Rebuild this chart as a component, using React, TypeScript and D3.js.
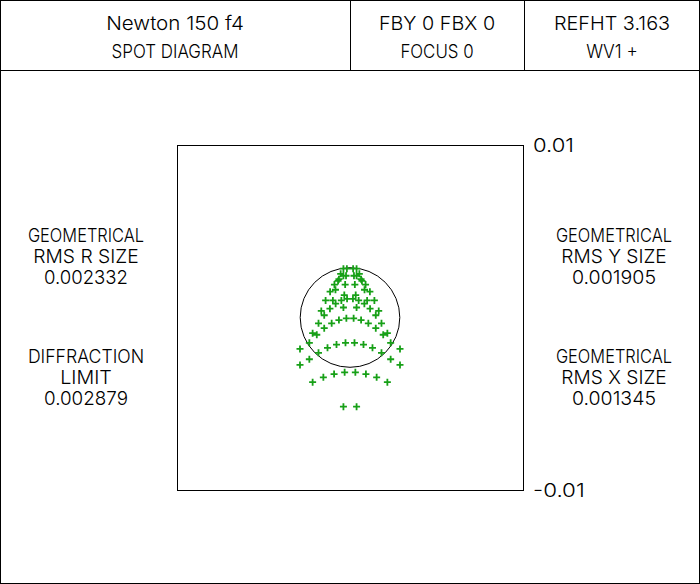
import React from 'react';
import * as d3 from 'd3';

const headerTitle = ['Newton 150 f4', 'SPOT DIAGRAM'];
const headerField = ['FBY 0 FBX 0', 'FOCUS 0'];
const headerRef = ['REFHT 3.163', 'WV1 +'];
const leftStats = [
  ['GEOMETRICAL', 'RMS R SIZE', '0.002332'],
  ['DIFFRACTION', 'LIMIT', '0.002879'],
];
const rightStats = [
  ['GEOMETRICAL', 'RMS Y SIZE', '0.001905'],
  ['GEOMETRICAL', 'RMS X SIZE', '0.001345'],
];
const axisTicks = [0.01, -0.01];
const axisTickLabels = ['0.01', '-0.01'];
const diffractionRadius = 0.002879;

// spot positions (mm)
const spotX = [
  -0.00018, 0.00018, -0.00023, 0.00023, -0.00028, 0.00028, -0.00033, 0.00033, -0.00038, 0.00038,
  -0.00038, 0.00038, -0.00054, 0.00054, -0.00069, 0.00069, -0.00084, 0.00084, -0.00099, 0.00099,
  -0.00038, 0.00038, -0.00064, 0.00064, -0.0009, 0.0009, -0.00115, 0.00115, -0.00141, 0.00141, -0.00166, 0.00166,
  -0.00017, 0.00017, -0.0005, 0.0005, -0.00083, 0.00083, -0.00116, 0.00116, -0.00149, 0.00149, -0.00182, 0.00182, -0.00216, 0.00216,
  -0.00021, 0.00021, -0.00064, 0.00064, -0.00106, 0.00106, -0.00149, 0.00149, -0.00192, 0.00192, -0.00235, 0.00235,
  -0.00026, 0.00026, -0.00078, 0.00078, -0.0013, 0.0013, -0.00182, 0.00182, -0.00235, 0.00235,
  -0.00031, 0.00031, -0.00092, 0.00092, -0.00154, 0.00154, -0.00216, 0.00216,
  -0.00038, 0.00038,
  -0.00289, 0.00289, -0.00289, 0.00289,
];
const spotY = [
  0.00283, 0.00283, 0.00242, 0.00242, 0.00191, 0.00191, 0.0013, 0.0013, 0.00058, 0.00058,
  0.00283, 0.00283, 0.00253, 0.00253, 0.00212, 0.00212, 0.00161, 0.00161, 0.00099, 0.00099,
  0.00242, 0.00242, 0.00222, 0.00222, 0.00191, 0.00191, 0.0015, 0.0015, 0.00099, 0.00099, 0.00038, 0.00038,
  0.00108, 0.00108, 0.00099, 0.00099, 0.0008, 0.0008, 0.00051, 0.00051, 0.00013, 0.00013, -0.00034, -0.00034, -0.00091, -0.00091,
  -0.00005, -0.00005, -0.00015, -0.00015, -0.00034, -0.00034, -0.00062, -0.00062, -0.001, -0.001, -0.00147, -0.00147,
  -0.00147, -0.00147, -0.00157, -0.00157, -0.00176, -0.00176, -0.00205, -0.00205, -0.00242, -0.00242,
  -0.00318, -0.00318, -0.00328, -0.00328, -0.00347, -0.00347, -0.00375, -0.00375,
  -0.00517, -0.00517,
  -0.00182, -0.00182, -0.00275, -0.00275,
];

const W = 700;
const H = 584;
const FONT = "Inter, 'DejaVu Sans', sans-serif";
const GREEN = '#17a017';

function Label({ x, y, text, anchor = 'middle' }: { x: number; y: number; text: string; anchor?: string }) {
  const len = text.length * 10.75 - 2;
  return (
    <text
      x={x}
      y={y}
      textAnchor={anchor}
      textLength={len}
      lengthAdjust="spacingAndGlyphs"
      fontFamily={FONT}
      fontWeight={300}
      fontSize={19}
      fill="#000"
    >
      {text}
    </text>
  );
}

export default function App() {
  const x = d3.scaleLinear().domain([-0.01, 0.01]).range([177, 523]);
  const y = d3.scaleLinear().domain([-0.01, 0.01]).range([490, 145]);
  const r = x(diffractionRadius) - x(0);
  const arm = 3.5;
  const crossPath = d3.path();
  spotX.forEach((sx, i) => {
    const px = x(sx);
    const py = y(spotY[i]);
    crossPath.moveTo(px - arm, py);
    crossPath.lineTo(px + arm, py);
    crossPath.moveTo(px, py - arm);
    crossPath.lineTo(px, py + arm);
  });

  return (
    <svg
      width={W}
      height={H}
      style={{ position: 'absolute', left: 0, top: 0, background: '#fff' }}
    >
      <rect x={0} y={0} width={W} height={H} fill="#fff" />
      <rect x={0.5} y={0.5} width={W - 1} height={H - 1} fill="none" stroke="#000" strokeWidth={1} />
      <line x1={0} x2={W} y1={70.5} y2={70.5} stroke="#000" />
      <line x1={350.5} x2={350.5} y1={0} y2={70.5} stroke="#000" />
      <line x1={524.5} x2={524.5} y1={0} y2={70.5} stroke="#000" />

      {headerTitle.map((t, i) => (
        <Label key={'h1' + i} x={175} y={30 + i * 28} text={t} />
      ))}
      {headerField.map((t, i) => (
        <Label key={'h2' + i} x={437} y={30 + i * 28} text={t} />
      ))}
      {headerRef.map((t, i) => (
        <Label key={'h3' + i} x={612} y={30 + i * 28} text={t} />
      ))}

      {leftStats.map((block, bi) =>
        block.map((t, i) => (
          <Label key={'l' + bi + i} x={86} y={242 + bi * 121 + i * 21} text={t} />
        ))
      )}
      {rightStats.map((block, bi) =>
        block.map((t, i) => (
          <Label key={'r' + bi + i} x={614} y={242 + bi * 121 + i * 21} text={t} />
        ))
      )}

      <rect
        x={x(-0.01) + 0.5}
        y={y(0.01) + 0.5}
        width={x(0.01) - x(-0.01)}
        height={y(-0.01) - y(0.01)}
        fill="none"
        stroke="#000"
        strokeWidth={1}
      />
      {axisTicks.map((v, i) => (
        <Label key={'t' + i} x={x(0.01) + 10} y={y(v) + 7} text={axisTickLabels[i]} anchor="start" />
      ))}

      <circle cx={x(0)} cy={y(0)} r={r} fill="none" stroke="#000" strokeWidth={1} />
      <path d={crossPath.toString()} stroke={GREEN} strokeWidth={1.8} fill="none" />
    </svg>
  );
}
